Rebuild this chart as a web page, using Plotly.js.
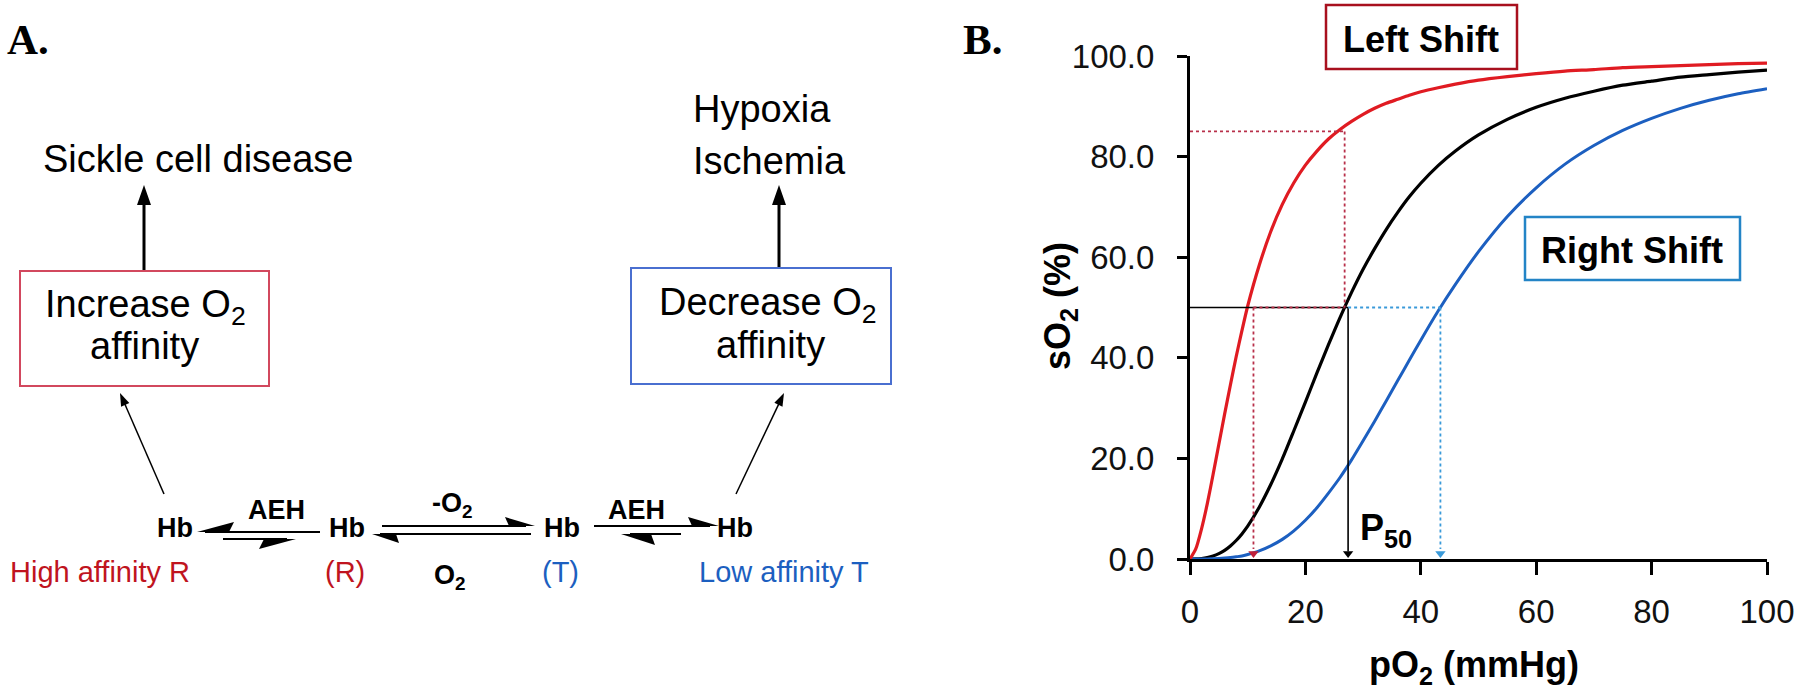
<!DOCTYPE html>
<html><head><meta charset="utf-8">
<script src="https://cdn.plot.ly/plotly-3.0.1.min.js"></script>
<style>html,body{margin:0;padding:0;background:#fff;}#chart{width:1800px;height:692px;}</style>
</head><body><div id="chart"></div>
<script>
// ---- Panel B data ----
const pO2 = [0,1,2,3,4,5,6,7,8,9,10,12,14,16,18,20,22,24,26,28,30,32,34,36,38,40,43,46,50,55,60,65,70,75,80,85,90,95,100];
const sO2Left = [0,2.0,6.0,11.0,16.8,22.8,28.8,34.6,40.2,45.4,50.3,58.4,65.1,70.5,74.8,78.3,81.1,83.5,85.4,87.0,88.4,89.6,90.6,91.4,92.2,92.9,93.7,94.4,95.2,95.9,96.5,97.0,97.3,97.7,97.9,98.1,98.3,98.5,98.6];
const sO2Normal = [0,0.01,0.09,0.27,0.58,1.06,1.73,2.6,3.68,4.99,6.52,10.3,14.8,19.9,25.5,31.2,37.0,42.6,48.0,53.0,57.6,61.7,65.5,68.9,72.0,74.7,78.2,81.1,84.3,87.4,89.8,91.6,93.0,94.2,95.0,95.8,96.3,96.8,97.2];
const sO2Right = [0,0,0.01,0.02,0.05,0.1,0.18,0.29,0.44,0.6,0.9,1.6,2.6,3.9,5.6,7.7,10.2,13.1,16.2,19.7,23.5,27.4,31.4,35.5,39.5,43.5,49.3,54.6,61.1,68.1,73.8,78.5,82.2,85.2,87.6,89.6,91.2,92.5,93.5];
const xTicks = [0,20,40,60,80,100];
const yTicks = [0,20,40,60,80,100];
const p50Left = 11, p50Normal = 27.4, p50Right = 43.4, halfSat = 50;
const xLeftAtNormal = 26.8, satLeftAtNormal = 85;

// ---- Panel A labels ----
const diseaseLeft = 'Sickle cell disease';
const diseaseRight = ['Hypoxia','Ischemia'];
const boxLeft = ['Increase O<sub>2</sub>','affinity'];
const boxRight = ['Decrease O<sub>2</sub>','affinity'];
const chainStates = ['Hb','Hb','Hb','Hb'];
const stateLabels = ['High affinity R','(R)','(T)','Low affinity T'];

const W = 1800, H = 692;
const X = p => p / W, Y = p => 1 - p / H;
const RED = '#e01b22', BLUE = '#1c5fc0';
const SANS = 'Liberation Sans, Arial, sans-serif';
const SERIF = 'Liberation Serif, Times New Roman, serif';

const shapes = [], ann = [];
function rect(x0,y0,x1,y1,color,w){shapes.push({type:'rect',xref:'paper',yref:'paper',x0:X(x0),x1:X(x1),y0:Y(y1),y1:Y(y0),line:{color:color,width:w},fillcolor:'rgba(0,0,0,0)'});}
function seg(x0,y0,x1,y1,color,w){shapes.push({type:'line',xref:'paper',yref:'paper',x0:X(x0),y0:Y(y0),x1:X(x1),y1:Y(y1),line:{color:color,width:w}});}
function tri(pts){shapes.push({type:'path',xref:'paper',yref:'paper',path:'M'+pts.map(p=>X(p[0])+','+Y(p[1])).join('L')+'Z',fillcolor:'#000',line:{width:0}});}
// arrow drawn as a line plus a filled triangular head (pixel coordinates of the diagram)
function arrow(hx,hy,tx,ty,w,len,half){
  const dx=hx-tx, dy=hy-ty, L=Math.hypot(dx,dy), ux=dx/L, uy=dy/L;
  const bx=hx-ux*len, by=hy-uy*len;
  seg(tx,ty,hx-ux*len*0.8,hy-uy*len*0.8,'#000',w);
  tri([[hx,hy],[bx-uy*half,by+ux*half],[bx+uy*half,by-ux*half]]);
}
function txt(s,x,y,size,color,family,xa){ann.push({xref:'paper',yref:'paper',x:X(x),y:Y(y),text:s,showarrow:false,xanchor:xa||'center',yanchor:'middle',font:{family:family||SANS,size:size,color:color||'#000'},borderpad:0});}

// Panel A
txt('<b>A.</b>',6,39,43,'#000',SERIF,'left');
txt(diseaseLeft,198,159,38);
txt(diseaseRight[0],692,109,38,'#000',SANS,'left');
txt(diseaseRight[1],692,161,38,'#000',SANS,'left');
arrow(144,185,144,270,3,20,7);
arrow(779,185,779,268,3,20,7);
rect(20,271,269,386,'#d2485e',2);
rect(631,268,891,384,'#4a6fd0',2);
txt(boxLeft[0],145,307,38);
txt(boxLeft[1],144,346,38);
txt(boxRight[0],768,305,38);
txt(boxRight[1],770,345,38);
arrow(120,393,164,494,1.5,13,4.5);
arrow(784,393,736,494,1.5,13,4.5);
const hbX = [175,347,562,735];
hbX.forEach((x,i)=>txt('<b>'+chainStates[i]+'</b>',x,528,27));
txt('<b>AEH</b>',276,510,27);
txt('<b>AEH</b>',636,510,27);
txt('<b>-O<sub>2</sub></b>',452,505,27);
txt('<b>O<sub>2</sub></b>',450,577,27);
txt(stateLabels[0],100,572,29,'#c0141e');
txt(stateLabels[1],345,572,29,'#c0141e');
txt(stateLabels[2],560,572,29,BLUE);
txt(stateLabels[3],784,572,29,BLUE);
// equilibrium harpoons
seg(205,532,320,532,'#000',2); tri([[197,532],[234,522],[229,532]]);
seg(223,539,287,539,'#000',2); tri([[296,539],[259,549],[264,539]]);
seg(382,526,526,526,'#000',2); tri([[535,526],[505,517],[509,526]]);
seg(380,534,531,534,'#000',2); tri([[372,534],[399,543],[396,534]]);
seg(594,526,710,526,'#000',2); tri([[719,526],[688,517],[692,526]]);
seg(630,534,681,534,'#000',2); tri([[621,534],[655,545],[651,534]]);

// Panel B texts and boxes
txt('<b>B.</b>',962,39,43,'#000',SERIF,'left');
rect(1326,5,1517,69,'#a8101e',2.5);
txt('<b>Left Shift</b>',1421,39,36);
rect(1525,217,1740,280,'#2384c6',2.5);
txt('<b>Right Shift</b>',1632,250,36);
txt('<b>pO<sub>2</sub> (mmHg)</b>',1474,667,36);
ann.push({xref:'paper',yref:'paper',x:X(1060),y:Y(306),text:'<b>sO<sub>2</sub> (%)</b>',textangle:-90,showarrow:false,xanchor:'center',yanchor:'middle',font:{family:SANS,size:36,color:'#000'}});
ann.push({xref:'x',yref:'y',x:29.1,y:5.8,text:'<b>P<sub>50</sub></b>',showarrow:false,xanchor:'left',yanchor:'middle',font:{family:SANS,size:36,color:'#000'}});

// Panel B reference lines (data coordinates)
const RDOT = '#b8304a', BDOT = '#3a9ad9';
function dline(x0,y0,x1,y1,color,w,dash){shapes.push({type:'line',xref:'x',yref:'y',x0:x0,y0:y0,x1:x1,y1:y1,line:{color:color,width:w,dash:dash}});}
dline(0,halfSat,p50Normal,halfSat,'#000',1.6,'solid');
dline(p50Normal,halfSat,p50Normal,1.5,'#000',1.6,'solid');
dline(0,satLeftAtNormal,xLeftAtNormal,satLeftAtNormal,RDOT,1.8,'dot');
dline(xLeftAtNormal,satLeftAtNormal,xLeftAtNormal,halfSat,RDOT,1.8,'dot');
dline(p50Left,halfSat,xLeftAtNormal,halfSat,RDOT,1.8,'dot');
dline(p50Left,halfSat,p50Left,2,RDOT,1.8,'dot');
dline(p50Normal,halfSat,p50Right,halfSat,BDOT,1.8,'dot');
dline(p50Right,halfSat,p50Right,2,BDOT,1.8,'dot');

const traces = [
  {x:pO2,y:sO2Normal,mode:'lines',line:{color:'#000',width:3.2,shape:'spline',smoothing:0.6},name:'Normal'},
  {x:pO2,y:sO2Right,mode:'lines',line:{color:BLUE,width:3,shape:'spline',smoothing:0.6},name:'Right shift'},
  {x:pO2,y:sO2Left,mode:'lines',line:{color:RED,width:3.2,shape:'spline',smoothing:0.6},name:'Left shift'},
  // arrowheads marking the P50 values on the x axis
  {x:[p50Left,p50Normal,p50Right],y:[1.1,1.1,1.1],mode:'markers',cliponaxis:false,
   marker:{symbol:'triangle-down',size:9,color:['#c0203a','#000',BDOT],line:{width:0}},name:'P50'}
];

const layout = {
  width:W,height:H,margin:{l:0,r:0,t:0,b:0},
  paper_bgcolor:'#fff',plot_bgcolor:'rgba(0,0,0,0)',showlegend:false,
  xaxis:{domain:[1190/W,1767/W],range:[0,100],showline:true,linewidth:3,linecolor:'#000',
    ticks:'outside',ticklen:13,tickwidth:3,tickcolor:'#000',tickvals:xTicks,showgrid:false,zeroline:false,
    tickfont:{family:SANS,size:33,color:'#111'},ticklabelstandoff:8,fixedrange:true},
  yaxis:{domain:[1-559/H,1-56/H],range:[0,100],showline:true,linewidth:3,linecolor:'#000',
    ticks:'outside',ticklen:10,tickwidth:3,tickcolor:'#000',tickvals:yTicks,tickformat:'.1f',showgrid:false,zeroline:false,
    tickfont:{family:SANS,size:33,color:'#111'},ticklabelstandoff:16,fixedrange:true},
  shapes:shapes,annotations:ann
};
Plotly.newPlot('chart',traces,layout,{displayModeBar:false,staticPlot:true});
</script></body></html>
